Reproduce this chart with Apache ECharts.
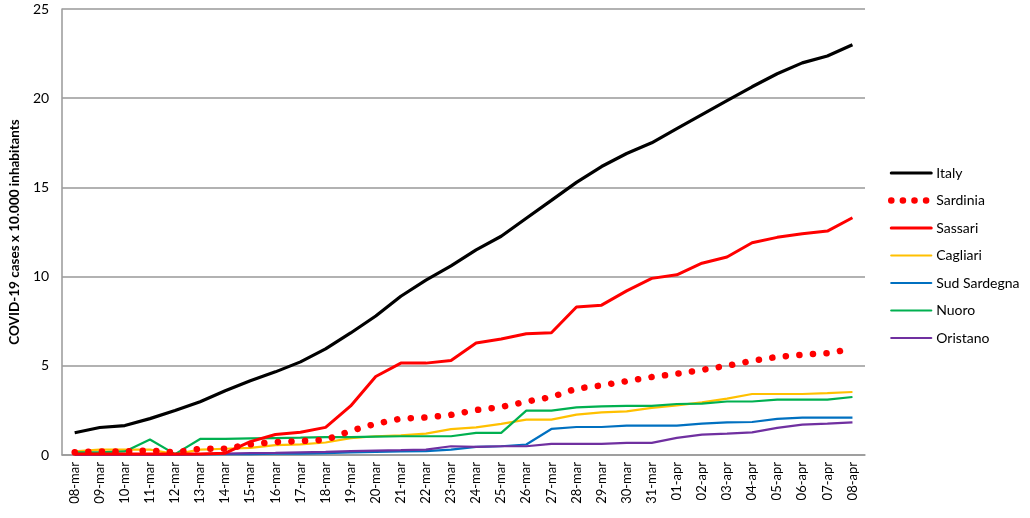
<!DOCTYPE html>
<html>
<head>
<meta charset="utf-8">
<script src="https://cdn.jsdelivr.net/npm/echarts@6/dist/echarts.min.js"></script>
<style>
html,body{margin:0;padding:0;background:#fff;}
#chart{width:1030px;height:518px;}
</style>
</head>
<body>
<div id="chart"></div>
<script>
const categories = ['08-mar','09-mar','10-mar','11-mar','12-mar','13-mar','14-mar','15-mar','16-mar','17-mar','18-mar','19-mar','20-mar','21-mar','22-mar','23-mar','24-mar','25-mar','26-mar','27-mar','28-mar','29-mar','30-mar','31-mar','01-apr','02-apr','03-apr','04-apr','05-apr','06-apr','07-apr','08-apr'];
const yTicks = [0, 5, 10, 15, 20, 25];

const italy = [1.25,1.54,1.65,2.04,2.49,2.99,3.6,4.16,4.66,5.22,5.95,6.84,7.79,8.9,9.8,10.6,11.5,12.26,13.27,14.27,15.28,16.17,16.9,17.5,18.3,19.08,19.86,20.64,21.37,21.98,22.37,23.0];
const sardinia = [0.15,0.2,0.2,0.25,0.15,0.35,0.35,0.6,0.73,0.78,0.85,1.35,1.75,2.04,2.1,2.25,2.52,2.69,2.99,3.25,3.72,3.9,4.14,4.37,4.55,4.77,5.0,5.28,5.5,5.62,5.71,5.95];
const sassari = [0.05,0.05,0.05,0.05,0.05,0.05,0.1,0.75,1.15,1.27,1.55,2.75,4.4,5.15,5.15,5.3,6.28,6.5,6.8,6.85,8.3,8.4,9.2,9.9,10.1,10.75,11.1,11.9,12.2,12.4,12.55,13.3];
const cagliari = [0.2,0.3,0.3,0.3,0.05,0.3,0.35,0.4,0.55,0.6,0.7,0.95,1.05,1.1,1.2,1.45,1.55,1.74,1.98,1.98,2.26,2.39,2.45,2.64,2.78,2.95,3.16,3.42,3.42,3.42,3.47,3.53];
const sudSardegna = [0.02,0.02,0.02,0.02,0.02,0.03,0.05,0.05,0.07,0.08,0.1,0.15,0.18,0.2,0.22,0.3,0.46,0.49,0.59,1.46,1.57,1.57,1.65,1.65,1.65,1.76,1.83,1.85,2.02,2.1,2.1,2.1];
const nuoro = [0.15,0.15,0.2,0.87,0.05,0.9,0.9,0.93,0.95,0.97,1.0,1.0,1.03,1.05,1.05,1.05,1.24,1.24,2.49,2.49,2.67,2.73,2.75,2.75,2.86,2.88,3.0,3.0,3.1,3.1,3.1,3.25];
const oristano = [0.0,0.0,0.0,0.0,0.0,0.05,0.08,0.1,0.12,0.15,0.18,0.22,0.25,0.27,0.3,0.49,0.46,0.49,0.49,0.62,0.62,0.62,0.68,0.68,0.96,1.14,1.2,1.27,1.52,1.7,1.76,1.83];

const FONT = 'Lato';
const chart = echarts.init(document.getElementById('chart'), null, {renderer: 'canvas'});

function lineSeries(name, data, color, width, extra) {
  return Object.assign({
    name: name,
    type: 'line',
    data: data,
    symbol: 'none',
    smooth: false,
    animation: false,
    lineStyle: {color: color, width: width},
    itemStyle: {color: color}
  }, extra || {});
}

function legendItem(name, color, width, type) {
  return {
    name: name,
    itemStyle: {opacity: 0},
    lineStyle: {color: color, width: width, type: type || 'solid', cap: 'round'}
  };
}

chart.setOption({
  animation: false,
  backgroundColor: '#fff',
  textStyle: {fontFamily: FONT},
  grid: {left: 59, right: 165, top: 9, bottom: 63, containLabel: false},
  legend: {
    orient: 'vertical',
    left: 883,
    top: 161,
    itemWidth: 40,
    itemHeight: 14,
    itemGap: 13.5,
    itemStyle: {opacity: 0},
    textStyle: {fontFamily: FONT, fontSize: 14, color: '#000'},
    data: [
      legendItem('Italy', '#000000', 3),
      legendItem('Sardinia', '#FF0000', 6.5, [0.1, 11.5]),
      legendItem('Sassari', '#FF0000', 3),
      legendItem('Cagliari', '#FFC000', 2.2),
      legendItem('Sud Sardegna', '#0070C0', 2.2),
      legendItem('Nuoro', '#00B050', 2.2),
      legendItem('Oristano', '#7030A0', 2.2)
    ]
  },
  xAxis: {
    type: 'category',
    data: categories,
    boundaryGap: true,
    axisLine: {lineStyle: {color: '#999', width: 1.5}},
    axisTick: {show: false},
    axisLabel: {rotate: 90, interval: 0, margin: 7, fontFamily: FONT, fontSize: 13, color: '#000'}
  },
  yAxis: {
    type: 'value',
    min: yTicks[0],
    max: yTicks[yTicks.length - 1],
    interval: yTicks[1] - yTicks[0],
    name: 'COVID-19 cases x 10.000 inhabitants',
    nameLocation: 'middle',
    nameGap: 38,
    nameTextStyle: {fontFamily: FONT, fontSize: 13.5, fontWeight: 'bold', color: '#000'},
    axisLine: {show: true, lineStyle: {color: '#999', width: 1.5}},
    axisTick: {show: false},
    axisLabel: {margin: 13, fontFamily: FONT, fontSize: 14, color: '#000'},
    splitLine: {lineStyle: {color: '#999', width: 1.5}}
  },
  series: [
    lineSeries('Italy', italy, '#000000', 3.2),
    lineSeries('Cagliari', cagliari, '#FFC000', 2.2),
    lineSeries('Sud Sardegna', sudSardegna, '#0070C0', 2.2),
    lineSeries('Nuoro', nuoro, '#00B050', 2.2),
    lineSeries('Oristano', oristano, '#7030A0', 2.2),
    lineSeries('Sassari', sassari, '#FF0000', 3),
    lineSeries('Sardinia', sardinia, '#FF0000', 6.5, {
      lineStyle: {color: '#FF0000', width: 6.5, type: [0.1, 13.5], cap: 'round'}
    })
  ]
});
</script>
</body>
</html>
